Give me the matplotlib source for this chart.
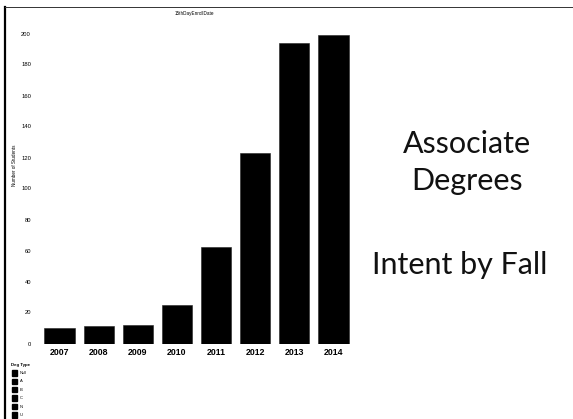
import matplotlib
matplotlib.use("Agg")
import matplotlib.pyplot as plt
from matplotlib.lines import Line2D
from matplotlib.patches import Rectangle

years = ["2007", "2008", "2009", "2010", "2011", "2012", "2013", "2014"]
students = [10, 11, 12, 25, 62, 123, 194, 199]
y_ticks = [0, 20, 40, 60, 80, 100, 120, 140, 160, 180, 200]
legend_title = "Deg Type"
legend_items = ["Null", "A", "B", "C", "N", "U"]

W, H = 573, 419
fig = plt.figure(figsize=(W / 100, H / 100), dpi=100)
fig.patch.set_facecolor("white")

def fx(px):
    return px / W

def fy(py):
    return 1 - py / H

# axes: x from 40 to 353 px; y 0 at 343.5 px, 200 at 33.5 px
ax = fig.add_axes([fx(40), fy(343.5), fx(313), (310) / H])
ax.bar(range(len(years)), students, width=0.77, color="black", edgecolor="#222222", linewidth=0.4)
ax.set_xlim(-0.5, len(years) - 0.5)
ax.set_ylim(0, 200)
for s in ax.spines.values():
    s.set_visible(False)
ax.set_xticks(range(len(years)))
ax.set_xticklabels(years, fontsize=6.3, fontweight="bold", family="Liberation Sans")
ax.set_yticks(y_ticks)
ax.set_yticklabels([str(v) for v in y_ticks], fontsize=4.2, family="Liberation Sans")
ax.tick_params(axis="both", length=0)
ax.tick_params(axis="y", pad=6.5)
ax.tick_params(axis="x", pad=3)
ax.patch.set_alpha(0)

fig.text(fx(15), fy(165), "Number of Students", rotation=90, fontsize=3.3,
         family="Liberation Sans", ha="center", va="center")
fig.text(fx(194), fy(14), "15thDayEnrollDate", fontsize=3.3,
         family="Liberation Sans", ha="center", va="center")

# legend
fig.text(fx(11), fy(365), legend_title, fontsize=3.2, fontweight="bold",
         family="Liberation Sans", ha="left", va="center")
for i, lab in enumerate(legend_items):
    yc = 373 + i * 8.4
    fig.patches.append(Rectangle((fx(11.5), fy(yc + 2.6)), fx(5.5), 5.5 / H,
                                 transform=fig.transFigure, color="black", figure=fig))
    fig.text(fx(19.5), fy(yc), lab, fontsize=3.0, family="Liberation Sans",
             ha="left", va="center")

# border lines
fig.add_artist(Line2D([fx(5), fx(5)], [fy(7.5), 0], color="black", linewidth=1.6,
                      transform=fig.transFigure))
fig.add_artist(Line2D([fx(5), 1], [fy(7.5), fy(7.5)], color="#333333", linewidth=0.7,
                      transform=fig.transFigure))

# right-hand text
side_font = ["Lato", "DejaVu Sans"]
fig.text(fx(466.5), fy(153), "Associate", fontsize=22, family=side_font,
         ha="center", va="baseline", color="#111111")
fig.text(fx(467), fy(190), "Degrees", fontsize=22, family=side_font,
         ha="center", va="baseline", color="#111111")
fig.text(fx(460), fy(274), "Intent by Fall", fontsize=22, family=side_font,
         ha="center", va="baseline", color="#111111")

fig.savefig("out.png", dpi=100, facecolor="white")
